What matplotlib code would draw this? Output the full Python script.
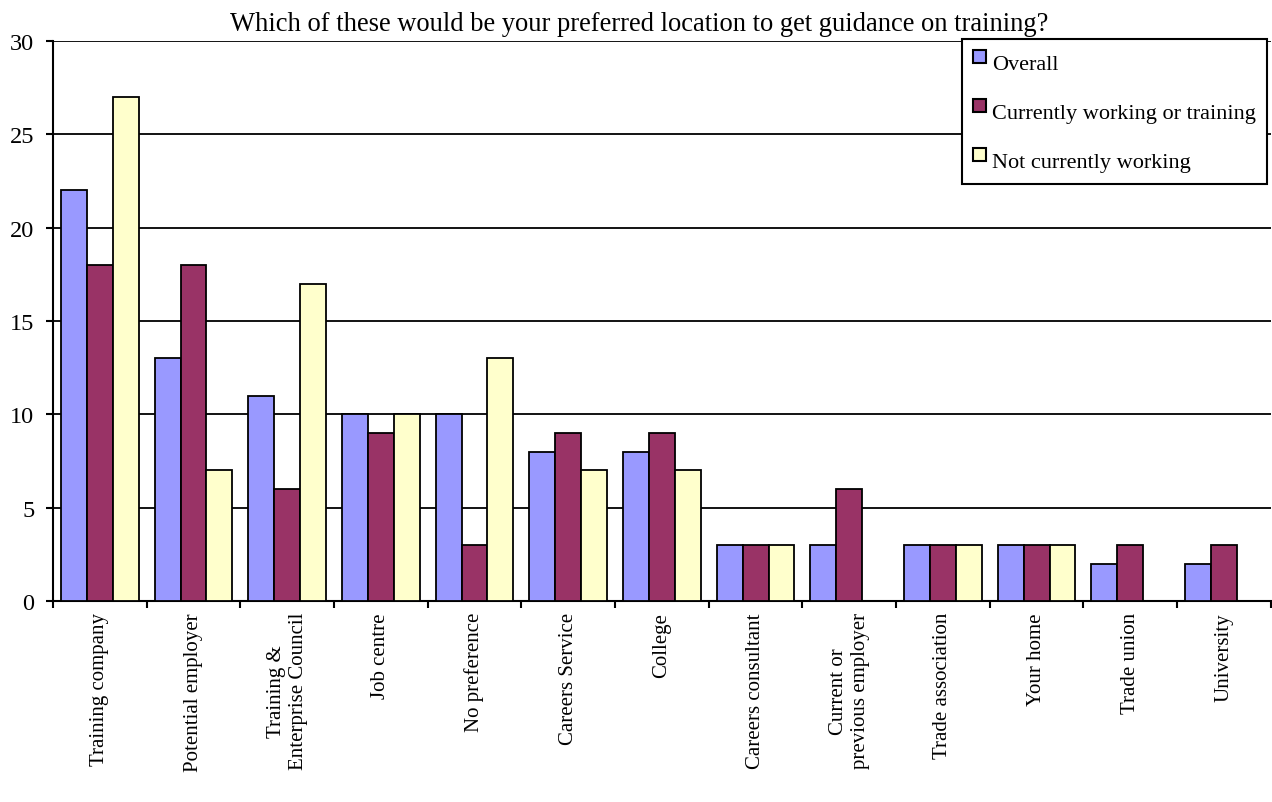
import numpy as np
import matplotlib.pyplot as plt
from matplotlib.patches import Rectangle, Patch
from matplotlib.legend_handler import HandlerPatch

plt.rcParams['font.family'] = ['Liberation Serif', 'DejaVu Serif']

categories = ["Training company", "Potential employer", "Training &\nEnterprise Council",
              "Job centre", "No preference", "Careers Service", "College",
              "Careers consultant", "Current or\nprevious employer", "Trade association",
              "Your home", "Trade union", "University"]
overall = [22, 13, 11, 10, 10, 8, 8, 3, 3, 3, 3, 2, 2]
working = [18, 18, 6, 9, 3, 9, 9, 3, 6, 3, 3, 3, 3]
not_working = [27, 7, 17, 10, 13, 7, 7, 3, 0, 3, 3, 0, 0]

series = [("Overall", overall, "#9999FF"),
          ("Currently working or training", working, "#993366"),
          ("Not currently working", not_working, "#FFFFCC")]

fig = plt.figure(figsize=(12.72, 8.03), dpi=100)
ax = fig.add_axes([53/1272, 1 - 602/803, 1 - 53/1272 - 0.001, 560/803])

x = np.arange(len(categories))
w = 0.277
proxies = []
for i, (name, vals, col) in enumerate(series):
    ax.bar(x + (i - 1) * w, vals, w, color=col, edgecolor="black", linewidth=1.3,
           zorder=3)
    proxies.append(Patch(facecolor=col, edgecolor="black", linewidth=1.5, label=name))

ax.set_xlim(-0.5, len(categories) - 0.5)
ax.set_ylim(0, 30)
ax.set_yticks(range(0, 31, 5))
ax.yaxis.grid(True, color="black", linewidth=1.3, zorder=0)
ax.set_axisbelow(True)
for s in ["top", "right"]:
    ax.spines[s].set_visible(False)
ax.spines["left"].set_linewidth(1.5)
ax.spines["bottom"].set_linewidth(1.5)

ax.set_xticks(x)
ax.set_xticklabels(categories, rotation=90, fontsize=15, va="top", ha="center",
                   multialignment="center")
ax.tick_params(axis="x", which="major", length=0, pad=8)
ax.set_xticks(np.arange(-0.5, len(categories)), minor=True)
ax.tick_params(axis="x", which="minor", length=5, width=1.5, direction="out")
ax.tick_params(axis="y", length=5, width=1.5, direction="out", labelsize=17.5, pad=8.5)

ax.set_title("Which of these would be your preferred location to get guidance on training?",
             fontsize=19.1, pad=8, x=0.481)


# small square sitting above the text line, like the old Excel legend
def raised_square(legend, orig_handle, xdescent, ydescent, width, height, fontsize):
    return Rectangle((-xdescent, -ydescent + height - width), width, width)


leg = ax.legend(handles=proxies, loc="upper left", bbox_to_anchor=(0.7465, 1.004),
                borderaxespad=0, fontsize=16, frameon=True, fancybox=False,
                edgecolor="black", framealpha=1, handlelength=0.6, handleheight=1.3,
                handletextpad=0.25, labelspacing=1.1, borderpad=0.5,
                handler_map={Patch: HandlerPatch(patch_func=raised_square)})
leg.get_frame().set_linewidth(1.5)

fig.savefig("out.png", dpi=100)
